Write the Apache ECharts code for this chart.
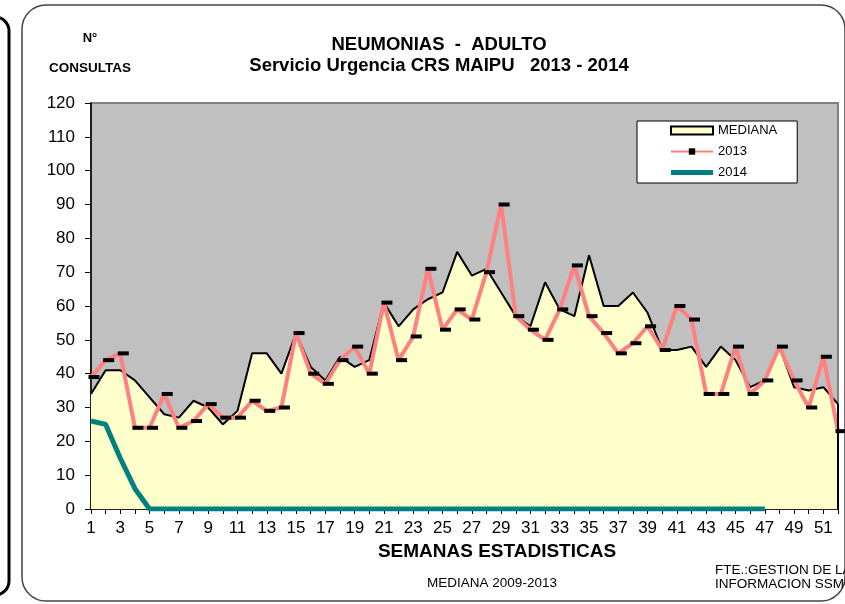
<!DOCTYPE html>
<html>
<head>
<meta charset="utf-8">
<script src="https://cdn.jsdelivr.net/npm/echarts@6/dist/echarts.min.js"></script>
<style>
  html, body { margin: 0; padding: 0; background: #ffffff; }
  #chart { width: 845px; height: 604px; }
</style>
</head>
<body>
<div id="chart"></div>
<script>
// Semanas estadísticas 1..52
const semanas = Array.from({ length: 52 }, (_, i) => String(i + 1));

// Mediana 2009-2013 (consultas por semana)
const mediana = [34, 41, 41, 38, 33, 28, 27, 32, 30, 25,
                 29, 46, 46, 40, 52, 42, 38, 45, 42, 44,
                 61, 54, 59, 62, 64, 76, 69, 71, 64, 57,
                 54, 67, 59, 57, 75, 60, 60, 64, 58, 47,
                 47, 48, 42, 48, 44, 36, 38, 48, 36, 35,
                 36, 31];

// Año 2013
const anio2013 = [39, 44, 46, 24, 24, 34, 24, 26, 31, 27,
                  27, 32, 29, 30, 52, 40, 37, 44, 48, 40,
                  61, 44, 51, 71, 53, 59, 56, 70, 90, 57,
                  53, 50, 59, 72, 57, 52, 46, 49, 54, 47,
                  60, 56, 34, 34, 48, 34, 38, 48, 38, 30,
                  45, 23];

// Año 2014 (semanas 1 a 47)
const anio2014 = [26, 25, 15, 6, 0, 0, 0, 0, 0, 0,
                  0, 0, 0, 0, 0, 0, 0, 0, 0, 0,
                  0, 0, 0, 0, 0, 0, 0, 0, 0, 0,
                  0, 0, 0, 0, 0, 0, 0, 0, 0, 0,
                  0, 0, 0, 0, 0, 0, 0, null, null, null,
                  null, null];

// Marcas del eje vertical
const yMin = 0, yMax = 120, yStep = 10;

const FONT = '"Liberation Sans", Arial, sans-serif';

const chart = echarts.init(document.getElementById('chart'), null, { renderer: 'canvas' });

const ultimaSemana = semanas[semanas.length - 1];

chart.setOption({
  animation: false,
  backgroundColor: '#ffffff',
  textStyle: { fontFamily: FONT, color: '#000' },
  graphic: [
    // borde del recuadro vecino a la izquierda
    { type: 'rect', silent: true, z: -10,
      shape: { x: -400, y: 17, width: 409, height: 578, r: 14 },
      style: { fill: 'none', stroke: '#000', lineWidth: 3 } },
    // recuadro redondeado del gráfico
    { type: 'rect', silent: true, z: -10,
      shape: { x: 22, y: 5, width: 823, height: 596, r: 24 },
      style: { fill: 'none', stroke: '#444', lineWidth: 1.5 } },
    { type: 'text', x: 90, y: 38,
      style: { text: 'N°', font: 'bold 13px ' + FONT, fill: '#000', align: 'center', verticalAlign: 'middle' } },
    { type: 'text', x: 90, y: 68,
      style: { text: 'CONSULTAS', font: 'bold 13.5px ' + FONT, fill: '#000', align: 'center', verticalAlign: 'middle' } },
    { type: 'text', x: 492, y: 583,
      style: { text: 'MEDIANA 2009-2013', font: '13.5px ' + FONT, fill: '#000', align: 'center', verticalAlign: 'middle' } },
    { type: 'text', x: 715, y: 570,
      style: { text: 'FTE.:GESTION DE LA', font: '13.5px ' + FONT, fill: '#000', verticalAlign: 'middle' } },
    { type: 'text', x: 715, y: 584,
      style: { text: 'INFORMACION SSMO', font: '13.5px ' + FONT, fill: '#000', verticalAlign: 'middle' } }
  ],
  title: [
    { text: 'NEUMONIAS  -  ADULTO', left: 434, top: 30, textAlign: 'center',
      textStyle: { fontSize: 18.5, fontWeight: 'bold', fontFamily: FONT, color: '#000' } },
    { text: 'Servicio Urgencia CRS MAIPU   2013 - 2014', left: 434, top: 51, textAlign: 'center',
      textStyle: { fontSize: 18.5, fontWeight: 'bold', fontFamily: FONT, color: '#000' } },
    { text: 'SEMANAS ESTADISTICAS', left: 492, top: 537, textAlign: 'center',
      textStyle: { fontSize: 19, fontWeight: 'bold', fontFamily: FONT, color: '#000' } }
  ],
  legend: {
    orient: 'vertical',
    left: 637, top: 121,
    padding: [3, 20, 4, 33],
    itemWidth: 42, itemHeight: 8, itemGap: 8,
    backgroundColor: '#ffffff',
    borderColor: '#000', borderWidth: 1,
    textStyle: { fontSize: 13, fontFamily: FONT, color: '#000' },
    data: [
      { name: 'MEDIANA', icon: 'rect',
        itemStyle: { color: '#FFFFCC', borderColor: '#000', borderWidth: 2 } },
      { name: '2013' },
      { name: '2014', icon: 'path://M0,0h42v5h-42z',
        itemStyle: { color: '#008080' } }
    ]
  },
  grid: {
    left: 91, right: 7, top: 103, bottom: 95,
    show: true, backgroundColor: '#C0C0C0',
    borderColor: '#808080', borderWidth: 2
  },
  xAxis: {
    type: 'category',
    data: semanas,
    boundaryGap: false,
    axisLine: { lineStyle: { color: '#000', width: 1.5 } },
    axisTick: { show: true, interval: 0, length: 5, lineStyle: { color: '#000' } },
    axisLabel: { interval: 1, fontSize: 17, fontFamily: FONT, color: '#000', margin: 11 },
    splitLine: { show: false }
  },
  yAxis: {
    type: 'value',
    min: yMin, max: yMax, interval: yStep,
    axisLine: { show: true, lineStyle: { color: '#000', width: 1.5 } },
    axisTick: { show: true, length: 6, lineStyle: { color: '#000' } },
    axisLabel: { fontSize: 17, fontFamily: FONT, color: '#000', margin: 16 },
    splitLine: { show: false }
  },
  series: [
    { name: 'MEDIANA', type: 'line', data: mediana,
      symbol: 'none', z: 1,
      lineStyle: { color: '#000', width: 2 },
      itemStyle: { color: '#FFFFCC', borderColor: '#000', borderWidth: 2 },
      areaStyle: { color: '#FFFFCC', opacity: 1 },
      // borde derecho del área (última semana hasta cero)
      markLine: {
        silent: true, symbol: 'none', label: { show: false },
        lineStyle: { color: '#000', width: 2, type: 'solid' },
        data: [[{ coord: [ultimaSemana, 0] }, { coord: [ultimaSemana, mediana[mediana.length - 1]] }]]
      } },
    { name: '2013', type: 'line', data: anio2013,
      symbol: 'rect', symbolSize: [11, 4], symbolOffset: [3, 0], z: 3,
      lineStyle: { color: '#FF8080', width: 4 },
      itemStyle: { color: '#000' } },
    { name: '2014', type: 'line', data: anio2014,
      symbol: 'none', z: 4,
      lineStyle: { color: '#008080', width: 5 },
      itemStyle: { color: '#008080' } }
  ]
});
</script>
</body>
</html>
